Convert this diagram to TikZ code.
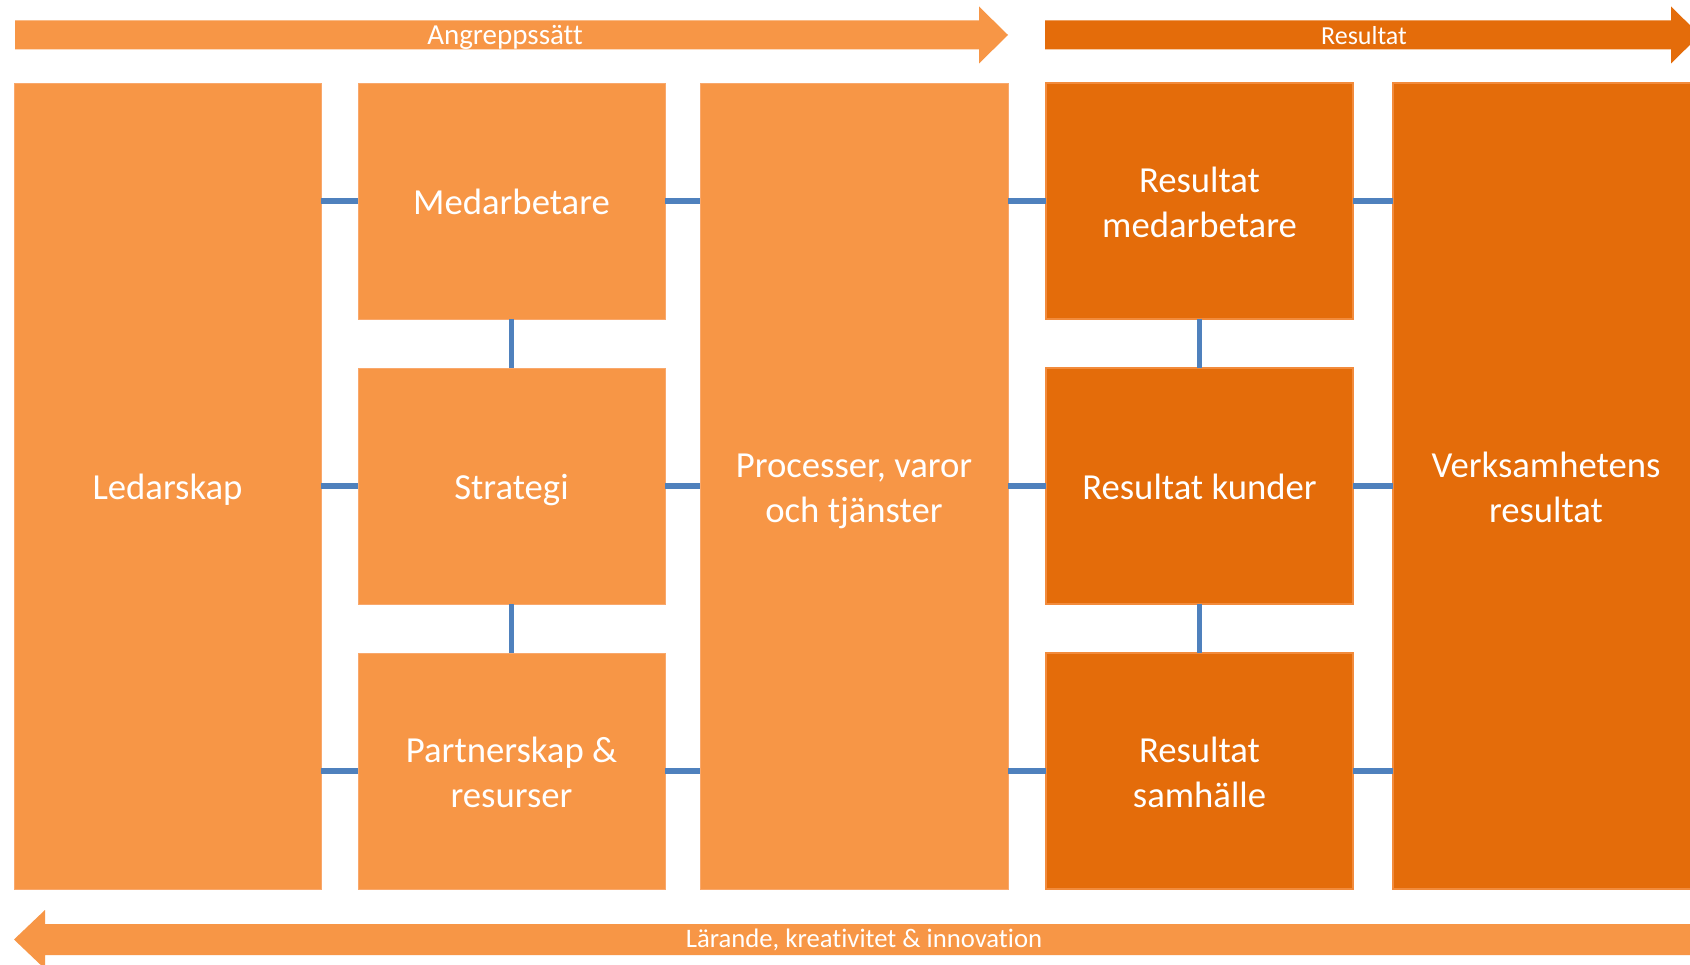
\documentclass[tikz,border=0pt]{standalone}
\usepackage{fontspec}
\setmainfont{Carlito}[Ligatures=NoCommon]
\definecolor{lor}{HTML}{F79646}
\definecolor{lorb}{HTML}{F9A86C}
\definecolor{dor}{HTML}{E46C0A}
\definecolor{dorb}{HTML}{F28B3C}
\definecolor{conn}{HTML}{4F81BD}
\newcommand\lnstrut{\rule[-0.2em]{0pt}{1.15em}}
\begin{document}
\begin{tikzpicture}[x=1pt,y=-1pt,
  lbox/.style={rectangle, fill=lor, draw=lorb, line width=0.8pt, inner sep=0pt, outer sep=0pt,
    text=white, align=center, font=\fontsize{36.7}{45}\selectfont},
  dbox/.style={rectangle, fill=dor, draw=dorb, line width=1.4pt, inner sep=0pt, outer sep=0pt,
    text=white, align=center, font=\fontsize{36.7}{45}\selectfont},
  label/.style={text=white, inner sep=0pt},
  link/.style={draw=conn, line width=5.5pt}]
\useasboundingbox (0,0) rectangle (1690,965);
\clip (0,0) rectangle (1690,965);
\fill[white] (0,0) rectangle (1690,965);

% arrows
\fill[lor] (15,20.5) -- (979,20.5) -- (979,6.5) -- (1008,35) -- (979,63.5) -- (979,49.5) -- (15,49.5) -- cycle;
\fill[dor] (1045,20.5) -- (1671,20.5) -- (1671,6.5) -- (1700,35) -- (1671,63.5) -- (1671,49.5) -- (1045,49.5) -- cycle;
\fill[lor] (1700,924) -- (45,924) -- (45,910) -- (14,939.5) -- (45,969) -- (45,955) -- (1700,955) -- cycle;
\node[label, anchor=base, font=\fontsize{29}{30}\selectfont] (ang) at (505,45) {Angreppssätt};
\node[label, anchor=base, font=\fontsize{26}{30}\selectfont] (res) at (1364,45) {Resultat};
\node[label, font=\fontsize{26.7}{30}\selectfont] (lar) at (864,940) {Lärande, kreativitet \& innovation};

% boxes
\node[lbox, minimum width=307pt, minimum height=806pt] (led) at (167.5,486) {\lnstrut Ledarskap};
\node[lbox, minimum width=307pt, minimum height=236pt] (med) at (511.5,201) {\lnstrut Medarbetare};
\node[lbox, minimum width=307pt, minimum height=236pt] (str) at (511.5,486) {\lnstrut Strategi};
\node[lbox, minimum width=307pt, minimum height=236pt] (par) at (511.5,771) {\lnstrut Partnerskap \&\\\lnstrut resurser};
\node[lbox, minimum width=308pt, minimum height=806pt] (pro) at (854,486) {\lnstrut Processer, varor\\\lnstrut och tjänster};
\node[dbox, minimum width=307pt, minimum height=236pt] (rme) at (1199.5,201) {\lnstrut Resultat\\\lnstrut medarbetare};
\node[dbox, minimum width=307pt, minimum height=236pt] (rku) at (1199.5,486) {\lnstrut Resultat kunder};
\node[dbox, minimum width=307pt, minimum height=236pt] (rsa) at (1199.5,771) {\lnstrut Resultat\\\lnstrut samhälle};
\node[dbox, minimum width=306pt, minimum height=806pt] (ver) at (1546,486) {\lnstrut Verksamhetens\\\lnstrut resultat};

% connectors
\draw[link] (led.east |- med.west) -- (med.west);
\draw[link] (led.east |- str.west) -- (str.west);
\draw[link] (led.east |- par.west) -- (par.west);
\draw[link] (med.east) -- (pro.west |- med.east);
\draw[link] (str.east) -- (pro.west |- str.east);
\draw[link] (par.east) -- (pro.west |- par.east);
\draw[link] (pro.east |- rme.west) -- (rme.west);
\draw[link] (pro.east |- rku.west) -- (rku.west);
\draw[link] (pro.east |- rsa.west) -- (rsa.west);
\draw[link] (rme.east) -- (ver.west |- rme.east);
\draw[link] (rku.east) -- (ver.west |- rku.east);
\draw[link] (rsa.east) -- (ver.west |- rsa.east);
\draw[link] (med.south) -- (str.north);
\draw[link] (str.south) -- (par.north);
\draw[link] (rme.south) -- (rku.north);
\draw[link] (rku.south) -- (rsa.north);
\end{tikzpicture}
\end{document}
